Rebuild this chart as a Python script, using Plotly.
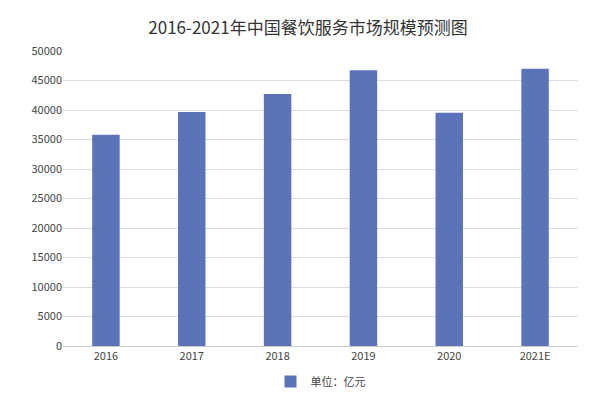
import plotly.graph_objects as go

years = ["2016", "2017", "2018", "2019", "2020", "2021E"]
values = [35799, 39644, 42716, 46721, 39527, 47000]

fig = go.Figure(go.Bar(x=years, y=values, name="单位：亿元", marker_color="#5B73B9",
                       marker_line_width=0, width=0.32, showlegend=True))
font = "Noto Sans CJK SC"
fig.update_layout(
    width=600, height=400, plot_bgcolor="white", paper_bgcolor="white",
    margin=dict(l=55, r=30, t=43, b=49),
    title=dict(text="2016-2021年中国餐饮服务市场规模预测图", x=0.5, y=0.965, xanchor="center",
               font=dict(family=font, size=17, color="#333")),
    font=dict(family=font, size=11, color="#444"),
    legend=dict(orientation="h", x=0.5, xanchor="center", y=-0.12, yanchor="middle",
                font=dict(size=11)),
    xaxis=dict(showline=True, linecolor="#ccc", ticks=""),
    yaxis=dict(range=[0, 50000], dtick=5000, gridcolor="#ddd", zeroline=False,
               tickformat="d"),
)
fig.write_html("out.html")
